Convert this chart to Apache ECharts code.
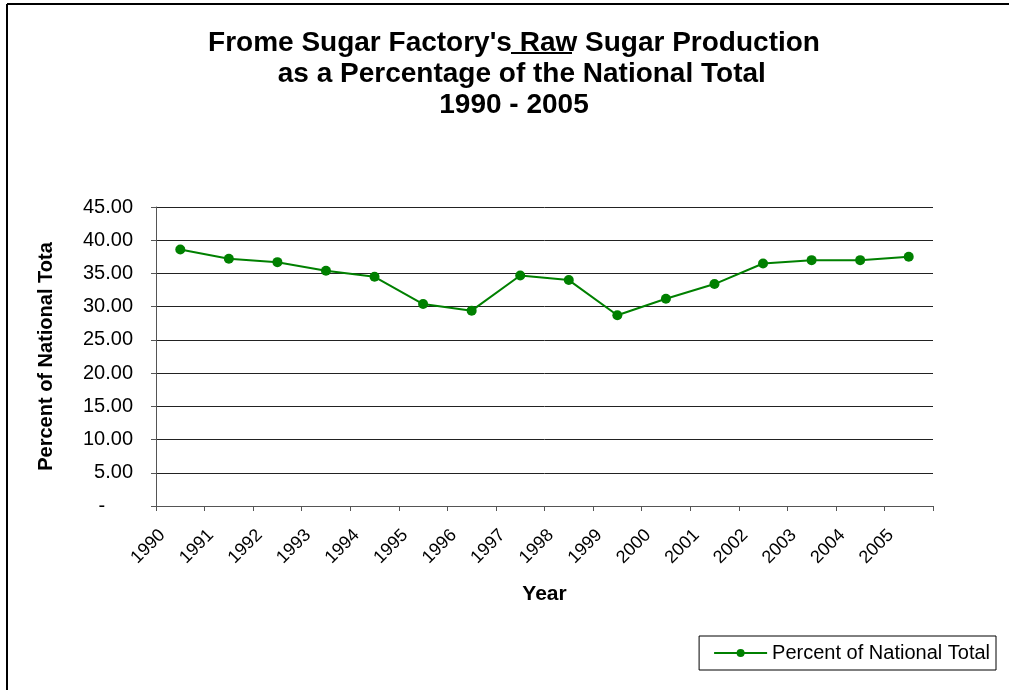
<!DOCTYPE html>
<html>
<head>
<meta charset="utf-8">
<script src="https://cdn.jsdelivr.net/npm/echarts@6/dist/echarts.min.js"></script>
<style>
  html, body { margin: 0; padding: 0; background: #fff; }
  #chart { width: 1009px; height: 690px; }
</style>
</head>
<body>
<div id="chart"></div>
<script>
// data
const years = ['1990', '1991', '1992', '1993', '1994', '1995', '1996', '1997',
               '1998', '1999', '2000', '2001', '2002', '2003', '2004', '2005']
const percentOfNational = [38.6, 37.2, 36.7, 35.4, 34.5, 30.4, 29.4, 34.7,
                           34.0, 28.7, 31.2, 33.4, 36.5, 37.0, 37.0, 37.5]
// tick labels sit on the tick marks (category edges), one extra empty slot at the end
const tickLabels = years.concat([''])

const font = 'Liberation Sans, Arial, sans-serif'
const green = '#008000'

const chart = echarts.init(document.getElementById('chart'))

const option = {
    backgroundColor: '#fff',
    animation: false,
    title: {
        text: "Frome Sugar Factory's Raw Sugar Production\n  as a Percentage of the National Total\n1990 - 2005",
        left: 509,
        top: 23,
        textAlign: 'center',
        textStyle: {
            fontFamily: font,
            fontSize: 28,
            fontWeight: 'bold',
            lineHeight: 31,
            color: '#000'
        }
    },
    legend: {
        data: ['Percent of National Total'],
        right: 13,
        bottom: 20,
        orient: 'horizontal',
        itemWidth: 53,
        itemHeight: 10,
        itemGap: 6,
        padding: [7, 6, 7, 14],
        borderColor: '#000',
        borderWidth: 1,
        borderRadius: 0,
        textStyle: { fontFamily: font, fontSize: 20, color: '#000' }
    },
    grid: { left: 156, top: 207, right: 76, bottom: 184 },
    xAxis: [{
        type: 'category',
        data: years,
        boundaryGap: true,
        name: 'Year',
        nameLocation: 'middle',
        nameGap: 78,
        nameTextStyle: { fontFamily: font, fontSize: 21, fontWeight: 'bold', color: '#000' },
        axisLine: { lineStyle: { color: '#555', width: 1 } },
        axisTick: { show: true, length: 5, lineStyle: { color: '#555' } },
        axisLabel: { show: false },
        splitLine: { show: false }
    }, {
        type: 'category',
        data: tickLabels,
        boundaryGap: false,
        position: 'bottom',
        axisLine: { show: false },
        axisTick: { show: false },
        axisLabel: {
            interval: 0,
            rotate: 45,
            margin: 20,
            verticalAlign: 'top',
            fontFamily: font,
            fontSize: 18,
            color: '#000'
        },
        splitLine: { show: false }
    }],
    yAxis: {
        type: 'value',
        min: 0,
        max: 45,
        interval: 5,
        name: 'Percent of National Tota',
        nameLocation: 'middle',
        nameGap: 100,
        nameRotate: 90,
        nameTextStyle: { fontFamily: font, fontSize: 20, fontWeight: 'bold', color: '#000' },
        axisLine: { show: true, lineStyle: { color: '#555', width: 1 } },
        axisTick: { show: true, length: 5, lineStyle: { color: '#555' } },
        axisLabel: {
            margin: 23,
            fontFamily: font,
            fontSize: 20,
            color: '#000',
            formatter: v => v === 0 ? '-     ' : v.toFixed(2)
        },
        splitLine: { show: true, lineStyle: { color: '#222', width: 1 } }
    },
    series: [{
        name: 'Percent of National Total',
        type: 'line',
        data: percentOfNational,
        xAxisIndex: 0,
        symbol: 'circle',
        symbolSize: 10,
        lineStyle: { color: green, width: 2 },
        itemStyle: { color: green }
    }],
    graphic: [
        // underline under " Raw" (the space before it is underlined too)
        { type: 'line', shape: { x1: 511, y1: 53, x2: 572, y2: 53 }, style: { stroke: '#000', lineWidth: 2 } },
        // outer frame: top and left edges only
        { type: 'line', shape: { x1: 7, y1: 4, x2: 1009, y2: 4 }, style: { stroke: '#000', lineWidth: 2 } },
        { type: 'line', shape: { x1: 7, y1: 4, x2: 7, y2: 690 }, style: { stroke: '#000', lineWidth: 2 } }
    ]
}

chart.setOption(option)
</script>
</body>
</html>
